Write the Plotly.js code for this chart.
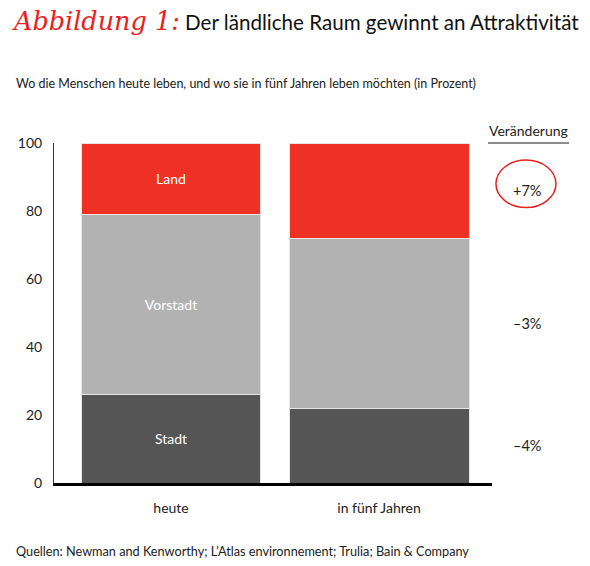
<!DOCTYPE html>
<html>
<head>
<meta charset="utf-8">
<script src="https://cdn.plot.ly/plotly-3.0.1.min.js"></script>
<style>
  html, body { margin: 0; padding: 0; background: #fff; }
  #chart { width: 590px; height: 566px; }
</style>
</head>
<body>
<div id="chart"></div>
<script>
// categories and values (in percent)
const categories = ['heute', 'in fünf Jahren'];
const stadt = [26, 22];
const vorstadt = [53, 50];
const land = [21, 28];
const changeLabels = ['–4%', '–3%', '+7%'];
const segmentNames = ['Stadt', 'Vorstadt', 'Land'];

const colors = ['#555555', '#b2b2b2', '#ee3124'];
const font = 'Lato, "Noto Sans", sans-serif';

// one trace per segment, label only on the first bar
const series = [stadt, vorstadt, land];
const traces = series.map(function (vals, i) {
    return {
        type: 'bar',
        name: segmentNames[i],
        x: categories,
        y: vals,
        width: 0.865,
        marker: { color: colors[i], line: { color: '#e6e6e6', width: 1 } },
        text: [segmentNames[i], ''],
        textposition: 'inside',
        insidetextanchor: 'middle',
        textfont: { color: '#ffffff', size: 14, family: font },
        hoverinfo: 'skip'
    };
});

// midpoints of the future bar segments for the change labels
const future = series.map(v => v[1]);
let base = 0;
const annotations = [];
future.forEach(function (v, i) {
    annotations.push({
        xref: 'paper', yref: 'y', x: 1.08, y: base + v / 2,
        xanchor: 'center', yanchor: 'middle',
        text: changeLabels[i], showarrow: false,
        font: { size: 14.5, color: '#222', family: font }
    });
    base += v;
});

annotations.push({
    xref: 'paper', yref: 'paper', x: 1.083, y: 1.038,
    xanchor: 'center', yanchor: 'middle',
    text: 'Veränderung', showarrow: false,
    font: { size: 14, color: '#222', family: font }
});
annotations.push({
    xref: 'paper', yref: 'paper', x: -0.0913, y: 1.176,
    xanchor: 'left', yanchor: 'middle',
    text: 'Wo die Menschen heute leben, und wo sie in fünf Jahren leben möchten (in Prozent)',
    showarrow: false, font: { size: 12.5, color: '#222', family: font }
});
annotations.push({
    xref: 'paper', yref: 'paper', x: -0.0913, y: -0.2,
    xanchor: 'left', yanchor: 'middle',
    text: 'Quellen: Newman and Kenworthy; L’Atlas environnement; Trulia; Bain & Company',
    showarrow: false, font: { size: 12.7, color: '#222', family: font }
});

const layout = {
    width: 590,
    height: 566,
    margin: { l: 54, r: 98, t: 143, b: 83 },
    paper_bgcolor: '#fff',
    plot_bgcolor: '#fff',
    barmode: 'stack',
    showlegend: false,
    title: {
        text: '<span style="font-family:\'DejaVu Serif\';font-style:italic;font-size:25.5px;fill:#e8211c">Abbildung 1:</span> Der ländliche Raum gewinnt an Attraktivität',
        x: 14 / 590, xanchor: 'left', xref: 'container',
        y: 1 - 23 / 566, yanchor: 'middle', yref: 'container',
        font: { size: 20.6, color: '#111', family: font }
    },
    xaxis: {
        range: [-0.5625, 1.543],
        showline: true, linecolor: '#000', linewidth: 3,
        ticks: '', ticklabelstandoff: 10,
        tickfont: { size: 14, color: '#222', family: font },
        showgrid: false, zeroline: false, fixedrange: true
    },
    yaxis: {
        range: [0, 100],
        tickvals: [0, 20, 40, 60, 80, 100],
        showline: true, linecolor: '#333', linewidth: 1,
        ticks: '', ticklabelstandoff: 8,
        tickfont: { size: 14, color: '#222', family: font },
        showgrid: false, zeroline: false, fixedrange: true
    },
    shapes: [
        // underline of the "Veränderung" header
        { type: 'line', xref: 'paper', yref: 'paper', x0: 0.991, x1: 1.176, y0: 1.0, y1: 1.0,
          line: { color: '#666', width: 1.5 } },
        // red circle round the +7% label
        { type: 'circle', xref: 'paper', yref: 'y', x0: 1.009, x1: 1.146, y0: 81, y1: 95,
          line: { color: '#e8211c', width: 1.5 } }
    ],
    annotations: annotations
};

Plotly.newPlot('chart', traces, layout, { displayModeBar: false, staticPlot: true });
</script>
</body>
</html>
